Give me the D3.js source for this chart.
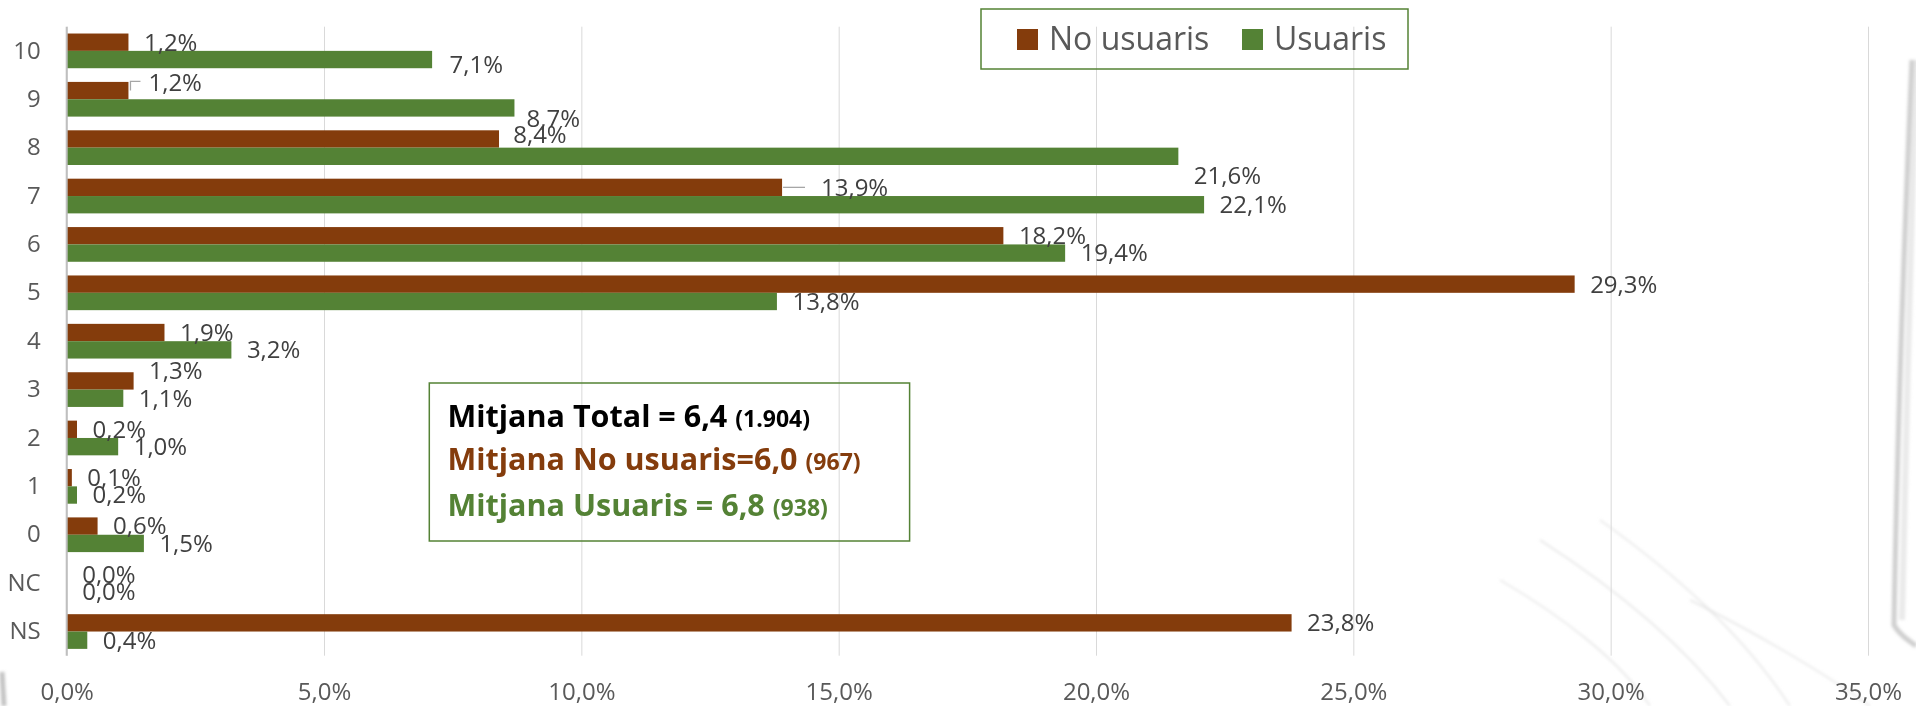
<!DOCTYPE html>
<html>
<head>
<meta charset="utf-8">
<script src="https://cdn.jsdelivr.net/npm/d3@7"></script>
<style>
html,body{margin:0;padding:0;background:#fff;}
svg{display:block;font-family:"Open Sans",sans-serif;}
</style>
</head>
<body>
<svg id="chart" width="1916" height="706"></svg>
<script>
// ---------- data ----------
const categories = ["10","9","8","7","6","5","4","3","2","1","0","NC","NS"];
const seriesNames = ["No usuaris","Usuaris"];
const noUsuaris = [1.2,1.2,8.4,13.9,18.2,29.3,1.9,1.3,0.2,0.1,0.6,0.0,23.8];
const usuaris   = [7.1,8.7,21.6,22.1,19.4,13.8,3.2,1.1,1.0,0.2,1.5,0.0,0.4];
const xTicks = [0,5,10,15,20,25,30,35];
const meanMain  = ["Mitjana Total = 6,4","Mitjana No usuaris=6,0","Mitjana Usuaris = 6,8"];
const meanCount = ["(1.904)","(967)","(938)"];

// ---------- layout / style ----------
const W = 1916, H = 706;
const plot = {left: 66.7, right: 1868, top: 26.7, bottom: 655.7};
const colors = {"No usuaris": "#843C0C", "Usuaris": "#548235"};
const meanColors = ["#000000", "#843C0C", "#548235"];
// manual label placements (offsets from the default outside-end spot)
const labelNudge = {
  "No usuaris|9": {dx: 4.5, dy: -8.3, leader: "elbow"},
  "Usuaris|9":    {dx: -3.4, dy: 10.6},
  "No usuaris|8": {dx: -1.3, dy: -4.4},
  "Usuaris|8":    {dx: 0, dy: 19.3},
  "No usuaris|7": {dx: 23.4, dy: 0, leader: "straight"},
  "No usuaris|3": {dx: 0, dy: -10},
  "Usuaris|10":   {dx: 2, dy: 5.5}
};

const locale = d3.formatLocale({decimal: ",", thousands: ".", grouping: [3], currency: ["", "€"]});
const f1 = locale.format(".1f");
const pct = v => f1(v) + "%";

const svg = d3.select("#chart");

// ---------- faint background texture ----------
const defs = svg.append("defs");
defs.append("filter").attr("id","blur").append("feGaussianBlur").attr("stdDeviation", 1.6);
const tex = svg.append("g").attr("filter","url(#blur)").attr("fill","none");
tex.append("path").attr("d","M1912,60 C1905,220 1897,450 1894,625 C1900,636 1910,641 1916,646")
  .attr("stroke","#a0a0a0").attr("stroke-width",5).attr("opacity",0.5);
tex.append("path").attr("d","M1916,60 C1912,220 1905,450 1902,620")
  .attr("stroke","#d6d6d6").attr("stroke-width",6).attr("opacity",0.5);
[["M1540,540 C1610,585 1680,640 1730,706",0.6],["M1600,520 C1670,570 1740,630 1790,706",0.5],
 ["M1500,580 C1560,615 1620,660 1650,706",0.5],["M1690,600 C1750,630 1820,670 1870,706",0.5]]
 .forEach(([d,o]) =>
  tex.append("path").attr("d",d).attr("stroke","#d8d8d8").attr("stroke-width",2).attr("opacity",o));
tex.append("path").attr("d","M2,672 L4,706").attr("stroke","#8a8a8a").attr("stroke-width",5).attr("opacity",0.5);

// ---------- scales ----------
const x = d3.scaleLinear().domain([0, 35]).range([plot.left, plot.right]);
const y = d3.scaleBand().domain(categories).range([plot.top, plot.bottom])
  .paddingInner(0.283).paddingOuter(0.141);
const ys = d3.scaleBand().domain(seriesNames).range([0, y.bandwidth()]);

// ---------- gridlines + x axis ----------
const xAxis = svg.append("g")
  .attr("transform", `translate(0,${plot.bottom})`)
  .call(d3.axisBottom(x).tickValues(xTicks).tickFormat(pct)
    .tickSize(-(plot.bottom - plot.top)).tickPadding(27));
xAxis.select(".domain").remove();
xAxis.selectAll(".tick line").attr("stroke", "#D9D9D9").attr("stroke-width", 1);
xAxis.selectAll(".tick text").attr("fill", "#595959").attr("font-size", 24)
  .attr("font-family", "Open Sans");

// ---------- bars ----------
const rows = categories.map((c, i) => ({cat: c, vals: [
  {s: "No usuaris", v: noUsuaris[i]}, {s: "Usuaris", v: usuaris[i]}]}));

const groups = svg.append("g").selectAll("g").data(rows).join("g")
  .attr("transform", d => `translate(0,${y(d.cat)})`);

groups.selectAll("rect").data(d => d.vals).join("rect")
  .attr("x", x(0))
  .attr("y", d => ys(d.s))
  .attr("width", d => x(d.v) - x(0))
  .attr("height", ys.bandwidth())
  .attr("fill", d => colors[d.s]);

// ---------- y axis ----------
svg.append("line").attr("x1", x(0)).attr("x2", x(0))
  .attr("y1", plot.top).attr("y2", plot.bottom)
  .attr("stroke", "#BFBFBF").attr("stroke-width", 2);

const yAxis = svg.append("g").attr("transform", `translate(${plot.left},0)`)
  .call(d3.axisLeft(y).tickSize(0).tickPadding(26));
yAxis.select(".domain").remove();
yAxis.selectAll(".tick text").attr("fill", "#595959").attr("font-size", 24)
  .attr("font-family", "Open Sans");

// ---------- data labels ----------
const labelG = svg.append("g");
rows.forEach(r => {
  r.vals.forEach(d => {
    const n = labelNudge[d.s + "|" + r.cat] || {dx: 0, dy: 0};
    const xEnd = x(d.v);
    const cy = y(r.cat) + ys(d.s) + ys.bandwidth() / 2;
    const lx = xEnd + 15.5 + n.dx;
    const ly = cy + n.dy;
    labelG.append("text").attr("x", lx).attr("y", ly).attr("dy", "0.35em")
      .attr("font-size", 24).attr("fill", "#404040").text(pct(d.v));
    if (n.leader === "elbow") {
      labelG.append("path")
        .attr("d", `M${xEnd + 2},${cy} L${xEnd + 2},${ly - 1} L${xEnd + 12},${ly - 1}`)
        .attr("fill", "none").attr("stroke", "#A6A6A6").attr("stroke-width", 1.3);
    } else if (n.leader === "straight") {
      labelG.append("line").attr("x1", xEnd + 1).attr("x2", lx - 16)
        .attr("y1", cy).attr("y2", cy)
        .attr("stroke", "#A6A6A6").attr("stroke-width", 1.3);
    }
  });
});

// ---------- legend ----------
const leg = svg.append("g");
leg.append("rect").attr("x", 981).attr("y", 9).attr("width", 427).attr("height", 60)
  .attr("fill", "none").attr("stroke", "#548235").attr("stroke-width", 1.5);
const legX = [1017, 1242];
seriesNames.forEach((s, i) => {
  leg.append("rect").attr("x", legX[i]).attr("y", 29).attr("width", 21).attr("height", 21)
    .attr("fill", colors[s]);
  leg.append("text").attr("x", legX[i] + 32).attr("y", 50).attr("font-size", 32)
    .attr("fill", "#595959").text(s);
});

// ---------- mean box ----------
const mb = svg.append("g");
mb.append("rect").attr("x", 429.3).attr("y", 383).attr("width", 480.3).attr("height", 158)
  .attr("fill", "none").attr("stroke", "#548235").attr("stroke-width", 1.5);
const baselines = [426.7, 470, 516];
meanMain.forEach((t, i) => {
  const tx = mb.append("text").attr("x", 447.5).attr("y", baselines[i])
    .attr("font-weight", 700).attr("fill", meanColors[i]);
  tx.append("tspan").attr("font-size", 30.5).text(t);
  tx.append("tspan").attr("font-size", 23).attr("dx", 8).text(meanCount[i]);
});
</script>
</body>
</html>
